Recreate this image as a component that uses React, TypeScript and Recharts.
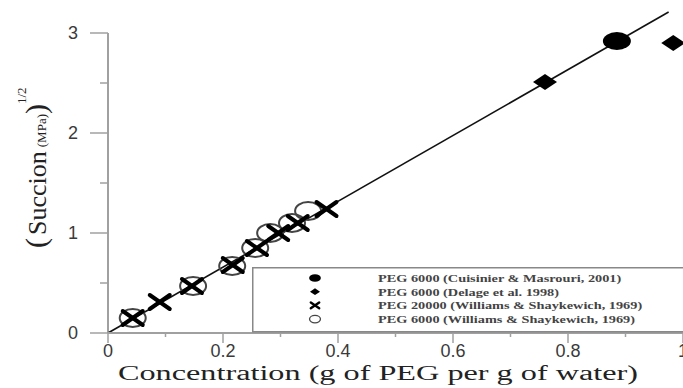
import { ComposedChart, Scatter, XAxis, YAxis, ReferenceLine, Legend } from 'recharts'

// PEG 6000 (Cuisinier & Masrouri, 2001)
const CUISINIER_2001 = [{ x: 0.885, y: 2.92 }]
// PEG 6000 (Delage et al. 1998)
const DELAGE_1998 = [
  { x: 0.76, y: 2.51 },
  { x: 0.983, y: 2.9 },
]
// PEG 20000 (Williams & Shaykewich, 1969)
const PEG20000_WS = [
  { x: 0.043, y: 0.15 },
  { x: 0.09, y: 0.31 },
  { x: 0.146, y: 0.47 },
  { x: 0.217, y: 0.68 },
  { x: 0.259, y: 0.85 },
  { x: 0.296, y: 1.0 },
  { x: 0.33, y: 1.1 },
  { x: 0.38, y: 1.24 },
]
// PEG 6000 (Williams & Shaykewich, 1969)
const PEG6000_WS = [
  { x: 0.043, y: 0.15 },
  { x: 0.148, y: 0.47 },
  { x: 0.216, y: 0.67 },
  { x: 0.256, y: 0.85 },
  { x: 0.282, y: 1.0 },
  { x: 0.32, y: 1.1 },
  { x: 0.348, y: 1.22 },
]
const FIT_LINE = [
  { x: 0, y: 0 },
  { x: 0.975, y: 3.21 },
]
const SERIES_NAMES = [
  'PEG 6000 (Cuisinier & Masrouri, 2001)',
  'PEG 6000 (Delage et al. 1998)',
  'PEG 20000 (Williams & Shaykewich, 1969)',
  'PEG 6000 (Williams & Shaykewich, 1969)',
]
const X_TICKS = [0, 0.1, 0.2, 0.3, 0.4, 0.5, 0.6, 0.7, 0.8, 0.9, 1]
const X_LABELS = ['0', '', '0.2', '', '0.4', '', '0.6', '', '0.8', '', '1']
const Y_TICKS = [0, 0.5, 1, 1.5, 2, 2.5, 3]
const Y_LABELS = ['0', '', '1', '', '2', '', '3']

const MARGIN_LEFT = 48
const Y_AXIS_W = 60
const AXIS_X = MARGIN_LEFT + Y_AXIS_W
const AXIS_GRAY = '#a0a0a0'
const TICK_FONT = { fontFamily: 'Liberation Sans, Arial, sans-serif', fontSize: 18, fill: '#3a3a3a' }

// marker shapes (the source image is stretched horizontally, so they are wide)
const Dot = ({ cx, cy, s = 1 }: any) => <ellipse cx={cx} cy={cy} rx={14 * s} ry={9 * s} fill="#000" />
const Diamond = ({ cx, cy, s = 1 }: any) => (
  <polygon
    points={`${cx - 12 * s},${cy} ${cx},${cy - 8 * s} ${cx + 12 * s},${cy} ${cx},${cy + 8 * s}`}
    fill="#000"
  />
)
const Cross = ({ cx, cy, s = 1 }: any) => (
  <g stroke="#000" strokeWidth={4 * Math.max(s, 0.6)} strokeLinecap="round">
    <line x1={cx - 10 * s} y1={cy - 7 * s} x2={cx + 10 * s} y2={cy + 7 * s} />
    <line x1={cx - 10 * s} y1={cy + 7 * s} x2={cx + 10 * s} y2={cy - 7 * s} />
  </g>
)
const Ring = ({ cx, cy, s = 1 }: any) => (
  <ellipse cx={cx} cy={cy} rx={13 * s} ry={9 * s} fill="none" stroke="#444" strokeWidth={s < 1 ? 1.3 : 2} />
)

const MARKERS = [Dot, Diamond, Cross, Ring]

function XTick({ x, y, index }: any) {
  const label = X_LABELS[index] ?? ''
  const major = label !== ''
  return (
    <g>
      <line x1={x} y1={y} x2={x} y2={y + (major ? 10 : 4)} stroke={AXIS_GRAY} strokeWidth={1.5} />
      {major && (
        <text x={x} y={y + 24} textAnchor="middle" {...TICK_FONT}>
          {label}
        </text>
      )}
    </g>
  )
}

function YTick({ y, index }: any) {
  const label = Y_LABELS[index] ?? ''
  const major = label !== ''
  const x = AXIS_X
  return (
    <g>
      <line x1={x - (major ? 18 : 8)} y1={y} x2={x} y2={y} stroke={AXIS_GRAY} strokeWidth={1.5} />
      {major && (
        <text x={x - 30} y={y + 6} textAnchor="end" {...TICK_FONT}>
          {label}
        </text>
      )}
    </g>
  )
}

function YTitle() {
  return (
    <text
      transform="translate(46, 248) rotate(-90)"
      fontFamily="Liberation Serif, Times New Roman, serif"
      fill="#222"
    >
      <tspan fontSize={30}>(</tspan>
      <tspan fontSize={26} dx={3}>Succion</tspan>
      <tspan fontSize={13} dx={4}>(MPa)</tspan>
      <tspan fontSize={30}>)</tspan>
      <tspan fontSize={13} dy={-20}>1/2</tspan>
    </text>
  )
}

function XTitle() {
  return (
    <text
      x={118}
      y={380}
      textLength={520}
      lengthAdjust="spacingAndGlyphs"
      fontFamily="Liberation Serif, Times New Roman, serif"
      fontSize={20}
      fill="#222"
    >
      Concentration (g of PEG per g of water)
    </text>
  )
}

function LegendBox() {
  return (
    <svg width={440} height={66} style={{ display: 'block' }}>
      <rect x={0.75} y={0.75} width={438} height={64} fill="#fff" stroke="#888" strokeWidth={1.5} />
      {SERIES_NAMES.map((name, i) => {
        const Marker = MARKERS[i]
        const cy = 11 + i * 13.7
        return (
          <g key={name}>
            <Marker cx={63} cy={cy} s={0.42} />
            <text
              transform={`translate(126, ${cy + 4}) scale(1.3, 1)`}
              fontFamily="Liberation Serif, Times New Roman, serif"
              fontWeight="bold"
              fontSize={11}
              fill="#444"
            >
              {name}
            </text>
          </g>
        )
      })}
    </svg>
  )
}

export default function App() {
  return (
    <div style={{ position: 'absolute', left: 0, top: 0, background: '#fff' }}>
      <ComposedChart width={683} height={388} margin={{ top: 3, right: 0, bottom: 0, left: MARGIN_LEFT }}>
        <XAxis
          type="number"
          dataKey="x"
          domain={[0, 1]}
          ticks={X_TICKS}
          interval={0}
          height={55}
          tickSize={0}
          tickMargin={0}
          tickLine={false}
          axisLine={{ stroke: AXIS_GRAY, strokeWidth: 2 }}
          tick={<XTick />}
          label={<XTitle />}
        />
        <YAxis
          type="number"
          dataKey="y"
          domain={[0, 3.3]}
          ticks={Y_TICKS}
          interval={0}
          width={Y_AXIS_W}
          tickSize={0}
          tickMargin={0}
          tickLine={false}
          axisLine={false}
          tick={<YTick />}
          label={<YTitle />}
        />
        <ReferenceLine
          segment={[
            { x: 0, y: 0 },
            { x: 0, y: 3 },
          ]}
          stroke={AXIS_GRAY}
          strokeWidth={2}
        />
        <ReferenceLine segment={FIT_LINE} stroke="#111" strokeWidth={1.6} />
        <Legend
          layout="horizontal"
          verticalAlign="middle"
          align="center"
          content={<LegendBox />}
          wrapperStyle={{ position: 'absolute', left: 252, top: 267, width: 440, height: 66 }}
        />
        <Scatter name={SERIES_NAMES[3]} data={PEG6000_WS} shape={<Ring />} isAnimationActive={false} />
        <Scatter name={SERIES_NAMES[2]} data={PEG20000_WS} shape={<Cross />} isAnimationActive={false} />
        <Scatter name={SERIES_NAMES[1]} data={DELAGE_1998} shape={<Diamond />} isAnimationActive={false} />
        <Scatter name={SERIES_NAMES[0]} data={CUISINIER_2001} shape={<Dot />} isAnimationActive={false} />
      </ComposedChart>
    </div>
  )
}
